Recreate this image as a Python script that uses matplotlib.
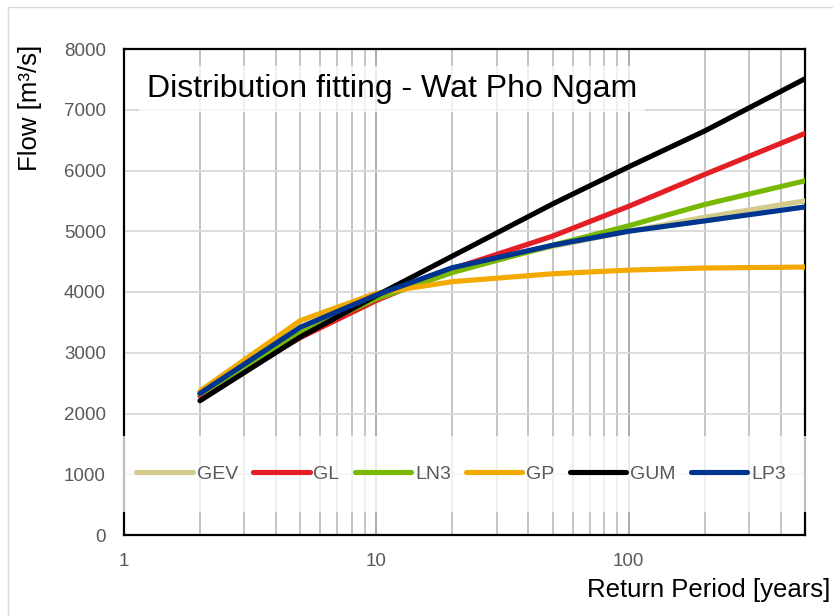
import matplotlib
matplotlib.use("Agg")
import matplotlib.pyplot as plt
from matplotlib.ticker import FixedLocator, LogLocator, NullFormatter
from matplotlib.patches import Rectangle

plt.rcParams['font.family'] = ['Liberation Sans', 'DejaVu Sans']

return_period = [2, 5, 10, 20, 50, 100, 200, 500]
gev = [2340, 3380, 3930, 4370, 4750, 5000, 5230, 5500]
gl = [2290, 3250, 3860, 4380, 4920, 5410, 5935, 6610]
ln3 = [2320, 3320, 3890, 4320, 4770, 5090, 5440, 5830]
gp = [2370, 3530, 3980, 4170, 4300, 4360, 4395, 4410]
gum = [2210, 3260, 3940, 4590, 5450, 6060, 6650, 7510]
lp3 = [2330, 3420, 3950, 4400, 4770, 5000, 5170, 5400]

series = [("GEV", gev, "#D3CB8C"), ("GL", gl, "#E31E24"), ("LN3", ln3, "#79B800"),
          ("GP", gp, "#F2A900"), ("GUM", gum, "#000000"), ("LP3", lp3, "#00358F")]

x_ticks = [1, 10, 100]
x_tick_labels = ["1", "10", "100"]
y_ticks = [0, 1000, 2000, 3000, 4000, 5000, 6000, 7000, 8000]

fig = plt.figure(figsize=(8.33, 6.16), dpi=100)
fig.patch.set_facecolor("white")
# outer chart border (left/top visible)
fig.patches.append(Rectangle((8/833, -0.1), 1.2, 1.1 - 7/616, transform=fig.transFigure,
                             fill=False, edgecolor="#D9D9D9", lw=1.0))

ax = fig.add_axes([124/833, 1-535/616, 681/833, 486/616])
ax.set_xscale("log")
ax.set_xlim(1, 500)
ax.set_ylim(0, 8000)

for name, vals, col in series:
    ax.plot(return_period, vals, color=col, lw=3.7, label=name, solid_capstyle="round",
            solid_joinstyle="round", zorder=3)

ax.xaxis.set_major_locator(FixedLocator(x_ticks))
ax.set_xticklabels(x_tick_labels)
ax.xaxis.set_minor_locator(LogLocator(base=10, subs=range(2, 10)))
ax.xaxis.set_minor_formatter(NullFormatter())
ax.set_yticks(y_ticks)
ax.set_yticklabels([str(v) for v in y_ticks])

ax.grid(True, which="major", axis="x", color="#A6A6A6", lw=1.3, zorder=0)
ax.grid(True, which="minor", axis="x", color="#BFBFBF", lw=1.3, zorder=0)
ax.grid(True, which="major", axis="y", color="#D9D9D9", lw=1.3, zorder=0)
ax.set_axisbelow(True)

ax.tick_params(axis="both", which="both", length=0, labelsize=13.5, labelcolor="#595959")
ax.tick_params(axis="y", pad=13)
ax.tick_params(axis="x", pad=13)

for s in ax.spines.values():
    s.set_color("black")
    s.set_linewidth(1.6)

leg = ax.legend(loc="center", bbox_to_anchor=(0.495, 1 - (474-49)/486), ncol=6,
                fontsize=14, handlelength=2.9, handletextpad=0.2, columnspacing=0.78,
                frameon=True, framealpha=0.75, fancybox=False, borderpad=1.5,
                borderaxespad=0)
leg.get_frame().set_edgecolor("none")
leg.get_frame().set_facecolor("white")
for t in leg.get_texts():
    t.set_color("#595959")
leg.set_zorder(5)

ax.text((147-124)/681, (535-89)/486, "Distribution fitting - Wat Pho Ngam", transform=ax.transAxes,
        fontsize=23, color="black", ha="left", va="center", zorder=6,
        bbox=dict(boxstyle="square,pad=0.25", facecolor="white", edgecolor="none", alpha=0.75))

fig.text(30/833, 1-45/616, "Flow [m³/s]", rotation=90, ha="center", va="top", fontsize=18.5, color="black")
fig.text(830/833, 1-590/616, "Return Period [years]", ha="right", va="center", fontsize=18.5, color="black")

fig.savefig("out.png", dpi=100, facecolor="white")
